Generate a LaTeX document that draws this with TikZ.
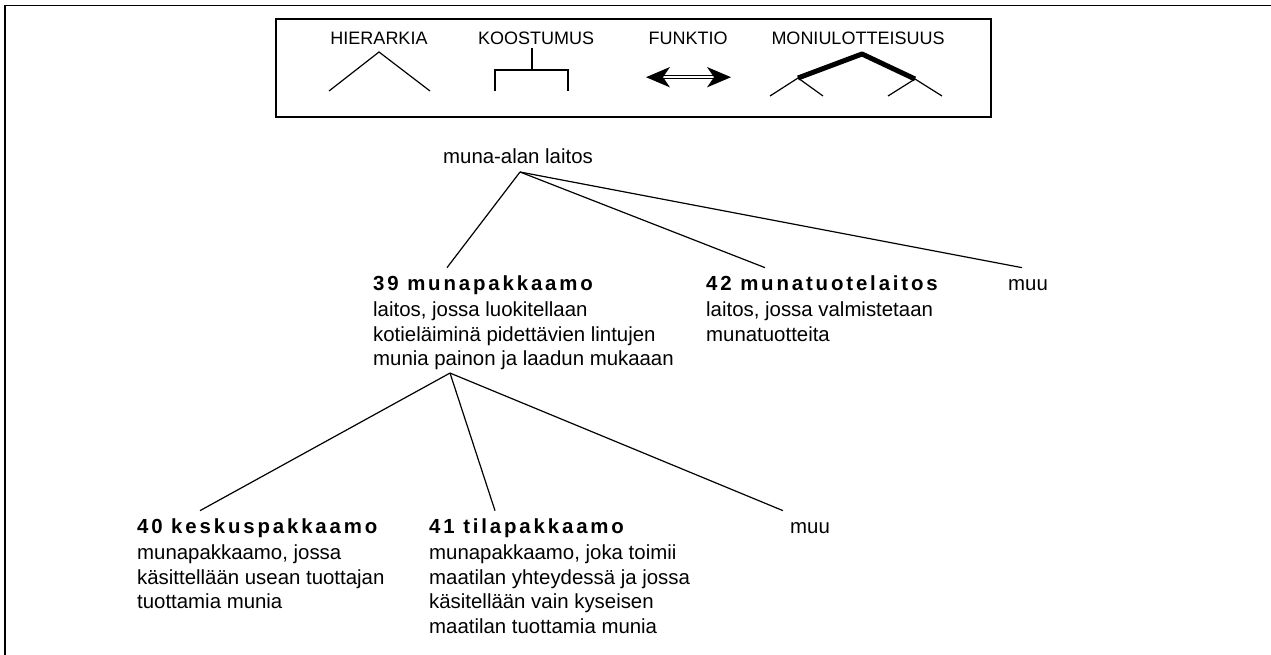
\documentclass[tikz,border=0pt]{standalone}
\usepackage{fontspec}
\setmainfont{Liberation Sans}
\newfontfamily\ttlfont[LetterSpace=14]{Liberation Sans}
\newcommand{\ttl}[1]{{\ttlfont\bfseries #1}}
\begin{document}
\begin{tikzpicture}[x=1pt,y=-1pt,
  conn/.style={line width=1.2pt},
  sym/.style={line width=1.2pt},
  thick sym/.style={line width=5pt},
  concept/.style={anchor=base west, inner sep=0pt, font=\fontsize{20.4}{24.5}\selectfont},
  roottext/.style={anchor=base, inner sep=0pt, font=\fontsize{20.4}{24.5}\selectfont},
  legtext/.style={anchor=base, inner sep=0pt, font=\fontsize{18}{21}\selectfont}]
\useasboundingbox (0,0) rectangle (1271,655);
% outer frame (only top and left visible)
\draw[line width=1.3pt] (1271,5.5) -- (5,5.5) -- (5,655);
% legend box
\draw[line width=1.2pt] (276,19) rectangle (991,117);
\node[legtext] (lh) at (379,45) {HIERARKIA};
\node[legtext] (lk) at (536,45) {KOOSTUMUS};
\node[legtext] (lf) at (688,45) {FUNKTIO};
\node[legtext] (lm) at (858,45) {MONIULOTTEISUUS};
% hierarchy symbol
\draw[sym] (329,91) -- (379,52) -- (430,91);
% composition symbol
\draw[sym] (532,48) -- (532,70);
\draw[sym] (495,91) -- (495,70) -- (568,70) -- (568,91);
% function symbol (double arrow)
\draw[line width=0.8pt] (662,75.8) -- (715,75.8);
\draw[line width=0.8pt] (662,78.6) -- (715,78.6);
\fill (646,77.2) -- (670,67) -- (663,77.2) -- (670,87.4) -- cycle;
\fill (731,77.2) -- (707,67) -- (714,77.2) -- (707,87.4) -- cycle;
% multidimensionality symbol
\draw[thick sym, line join=round] (798,78) -- (862,54) -- (915,79);
\draw[sym] (770,96) -- (798,78) -- (823,96);
\draw[sym] (888,96) -- (915,79) -- (942,96);

% tree
\node[roottext] (root) at (518,164) {muna-alan laitos};
\node[concept] (n39) at (373,290) {\begin{tabular}[t]{@{}l@{}}\ttl{39 munapakkaamo}\\[2pt]
laitos, jossa luokitellaan\\
kotieläiminä pidettävien lintujen\\
munia painon ja laadun mukaaan\end{tabular}};
\node[concept] (n42) at (706,290) {\begin{tabular}[t]{@{}l@{}}\ttl{42 munatuotelaitos}\\[2pt]
laitos, jossa valmistetaan\\
munatuotteita\end{tabular}};
\node[concept] (muu1) at (1008,290) {\begin{tabular}[t]{@{}l@{}}muu\end{tabular}};
\node[concept] (n40) at (137,533) {\begin{tabular}[t]{@{}l@{}}\ttl{40 keskuspakkaamo}\\[2pt]
munapakkaamo, jossa\\
käsittellään usean tuottajan\\
tuottamia munia\end{tabular}};
\node[concept] (n41) at (429,533) {\begin{tabular}[t]{@{}l@{}}\ttl{41 tilapakkaamo}\\[2pt]
munapakkaamo, joka toimii\\
maatilan yhteydessä ja jossa\\
käsitellään vain kyseisen\\
maatilan tuottamia munia\end{tabular}};
\node[concept] (muu2) at (790,533) {\begin{tabular}[t]{@{}l@{}}muu\end{tabular}};

\coordinate (apex1) at ([xshift=2pt,yshift=-8pt]root.base);
\coordinate (apex2) at ([xshift=77pt]n39.south west);
\draw[conn] (apex1) -- ([xshift=74pt,yshift=5pt]n39.north west);
\draw[conn] (apex1) -- ([xshift=59pt,yshift=5pt]n42.north west);
\draw[conn] (apex1) -- ([xshift=14pt,yshift=5pt]muu1.north west);
\draw[conn] (apex2) -- ([xshift=63pt,yshift=5pt]n40.north west);
\draw[conn] (apex2) -- ([xshift=66pt,yshift=5pt]n41.north west);
\draw[conn] (apex2) -- ([xshift=-7pt,yshift=5pt]muu2.north west);
\end{tikzpicture}
\end{document}
